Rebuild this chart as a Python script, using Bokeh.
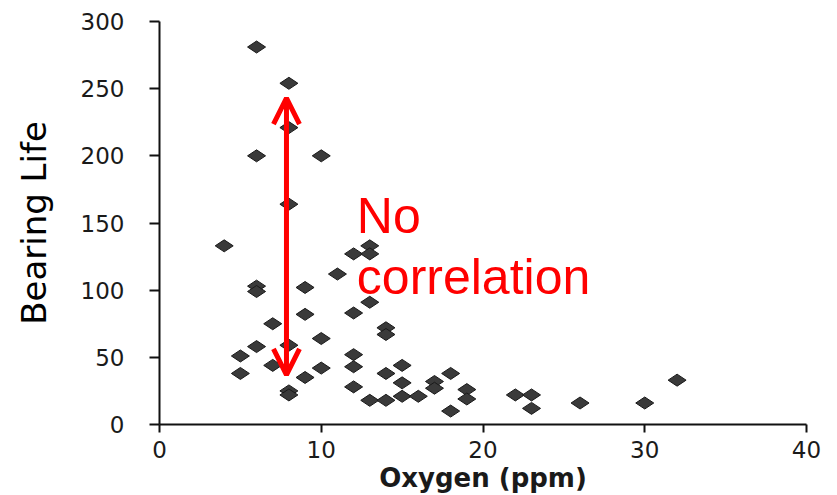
from bokeh.plotting import figure
from bokeh.models import Arrow, OpenHead, Label, Range1d, FixedTicker, ColumnDataSource
from bokeh.embed import file_html
from bokeh.resources import INLINE

# Measured bearing life against dissolved oxygen content
oxygen_ppm = [4, 5, 5, 6, 6, 6, 6, 6, 7, 7,
              8, 8, 8, 8, 8, 8, 9, 9, 9, 10,
              10, 10, 11, 12, 12, 12, 12, 12, 13, 13,
              13, 13, 14, 14, 14, 14, 15, 15, 15, 16,
              17, 17, 18, 18, 19, 19, 22, 23, 23, 26,
              30, 32]
bearing_life = [133, 51, 38, 281, 200, 103, 99, 58, 75, 44,
                254, 221, 164, 59, 25, 22, 102, 82, 35, 200,
                64, 42, 112, 127, 83, 52, 43, 28, 133, 127,
                91, 18, 72, 67, 38, 18, 44, 31, 21, 21,
                32, 27, 38, 10, 26, 19, 22, 22, 12, 16,
                16, 33]

x_ticks = [0, 10, 20, 30, 40]
y_ticks = [0, 50, 100, 150, 200, 250, 300]

# Double-headed marker spanning the spread of values near 8 ppm
arrow_x = 7.85
arrow_low = 37
arrow_high = 243

note_lines = ["No", "correlation"]

source = ColumnDataSource(data=dict(x=oxygen_ppm, y=bearing_life))

p = figure(width=837, height=495, output_backend="svg", toolbar_location=None,
           x_range=Range1d(0, 40), y_range=Range1d(0, 300),
           min_border_left=159, min_border_right=31,
           min_border_top=21, min_border_bottom=71)
p.outline_line_color = None
p.grid.visible = False
p.background_fill_color = "white"
p.border_fill_color = "white"

p.scatter("x", "y", source=source, marker="diamond", size=18, angle=1.5708,
          fill_color="#3a3a3a", line_color="#1a1a1a", line_width=1)

# axes
p.xaxis.ticker = FixedTicker(ticks=x_ticks)
p.yaxis.ticker = FixedTicker(ticks=y_ticks)
p.xaxis.minor_tick_line_color = None
p.yaxis.minor_tick_line_color = None
for ax in (p.xaxis[0], p.yaxis[0]):
    ax.axis_line_width = 2
    ax.axis_line_color = "#111111"
    ax.major_tick_line_width = 2
    ax.major_tick_line_color = "#111111"
    ax.major_tick_in = 0
    ax.major_label_text_font = "DejaVu Sans"
    ax.major_label_text_font_size = "23px"
    ax.major_label_text_color = "#1a1a1a"

p.xaxis.major_tick_out = 8
p.xaxis.major_label_standoff = 8
p.xaxis.axis_label = "Oxygen (ppm)"
p.xaxis.axis_label_text_font = "DejaVu Sans"
p.xaxis.axis_label_text_font_style = "bold"
p.xaxis.axis_label_text_font_size = "26px"
p.xaxis.axis_label_text_color = "#1a1a1a"
p.xaxis.axis_label_standoff = 2

p.yaxis.major_tick_out = 10
p.yaxis.major_label_standoff = 25
p.yaxis.axis_label = "Bearing Life"
p.yaxis.axis_label_text_font = "DejaVu Sans"
p.yaxis.axis_label_text_font_style = "normal"
p.yaxis.axis_label_text_font_size = "34px"
p.yaxis.axis_label_text_color = "black"
p.yaxis.axis_label_standoff = 24

# red annotation
p.add_layout(Arrow(x_start=arrow_x, y_start=arrow_low, x_end=arrow_x, y_end=arrow_high,
                   line_color="#ff0000", line_width=5,
                   start=OpenHead(size=26, line_color="#ff0000", line_width=5),
                   end=OpenHead(size=26, line_color="#ff0000", line_width=5)))

for txt, yy in zip(note_lines, [155, 110]):
    p.add_layout(Label(x=12.2, y=yy, text=txt, text_font="Liberation Sans",
                       text_font_size="50px", text_color="#ff0000",
                       text_baseline="alphabetic", text_align="left"))

open("out.html", "w").write(file_html(p, INLINE))
